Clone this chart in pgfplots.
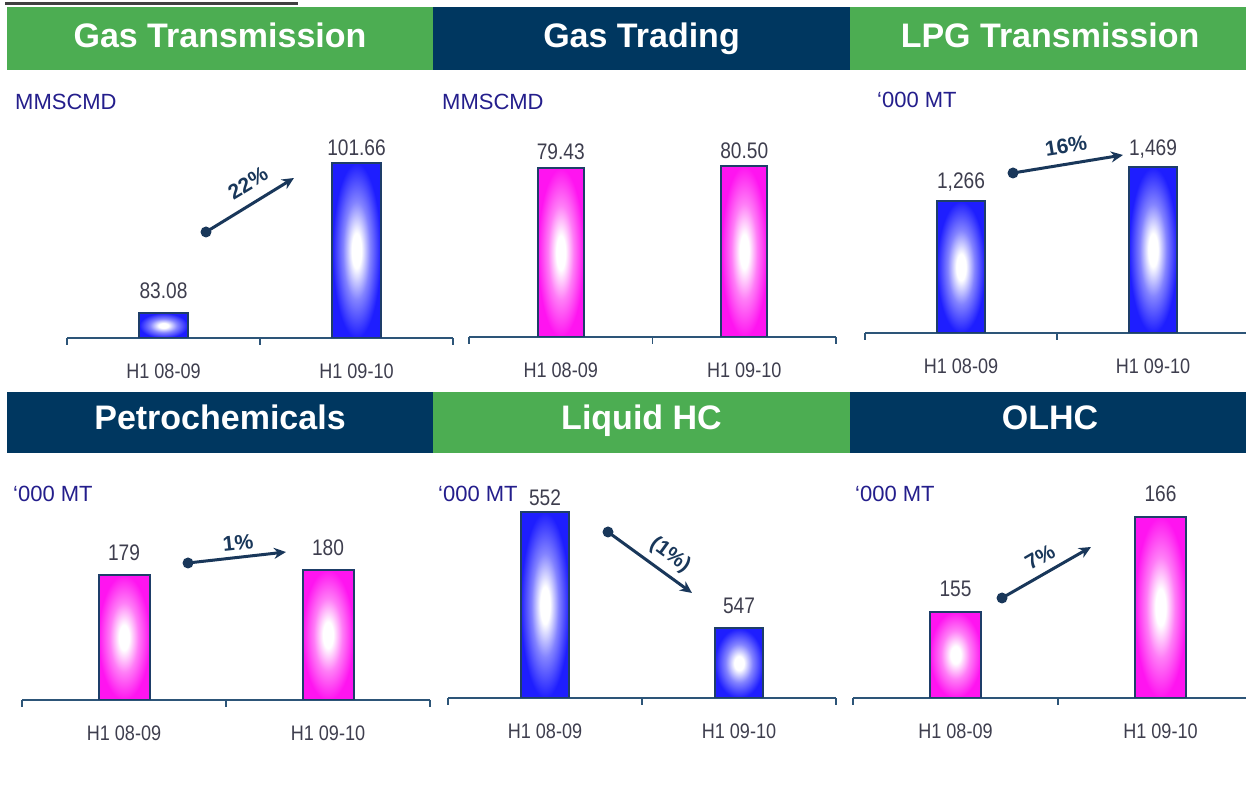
\documentclass[border=0pt]{standalone}
\usepackage{fontspec}
\setmainfont{Liberation Sans}
\newfontfamily\tickfont[FakeStretch=0.86]{Liberation Sans}
\newfontfamily\valfont[FakeStretch=0.85]{Liberation Sans}
\usepackage{pgfplots}
\pgfplotsset{compat=1.18}
\usetikzlibrary{arrows.meta}

\definecolor{hgreen}{RGB}{76,173,82}
\definecolor{hnavy}{RGB}{0,55,96}
\definecolor{unitcol}{RGB}{36,30,140}
\definecolor{txtcol}{RGB}{62,62,78}
\definecolor{arrowcol}{RGB}{25,55,90}
\definecolor{bordercol}{RGB}{30,62,105}
\definecolor{axiscol}{RGB}{45,85,120}
\definecolor{barblue}{RGB}{30,30,255}
\definecolor{barmag}{RGB}{255,20,240}
\definecolor{topline}{RGB}{64,64,64}

\pgfdeclareradialshading{blueshade}{\pgfpoint{0bp}{0bp}}{color(0bp)=(white); color(5bp)=(white); color(14bp)=(barblue!55!white); color(25bp)=(barblue); color(50bp)=(barblue)}
\pgfdeclareradialshading{magshade}{\pgfpoint{0bp}{0bp}}{color(0bp)=(white); color(5bp)=(white); color(14bp)=(barmag!55!white); color(25bp)=(barmag); color(50bp)=(barmag)}

\tikzset{
  hdr/.style={text=white, font=\fontsize{34}{40}\selectfont\bfseries, anchor=base, inner sep=0},
  unit/.style={text=unitcol, font=\fontsize{22}{26}\selectfont, anchor=west, inner sep=0},
  vlab/.style={text=txtcol, font=\valfont\fontsize{22.5}{26}\selectfont, anchor=base, inner sep=0},
  pct/.style={text=arrowcol, font=\fontsize{21}{25}\selectfont\bfseries, inner sep=0},
  arr/.style={draw=arrowcol, line width=3pt, -{Stealth[length=12pt,width=11pt]}},
}

\pgfplotsset{
  panel/.style={
    scale only axis, anchor=south west,
    xmin=-0.5, xmax=1.5, enlargelimits=false,
    axis x line=bottom, axis y line=none,
    axis line style={draw=axiscol, line width=1.5pt, -},
    xtick={-0.5,0.5,1.5}, xticklabels={,,},
    tick align=outside, major tick length=7pt,
    xtick style={draw=axiscol, line width=1.5pt},
    extra x ticks={0,1},
    extra x tick labels={H1 08-09,H1 09-10},
    extra x tick style={major tick length=0pt},
    xticklabel style={text=txtcol, font=\tickfont\fontsize{21}{24}\selectfont, yshift=-22pt},
    ytick=\empty,
    clip mode=individual,
  },
  bbar/.style={draw=bordercol, line width=2pt, shade, shading=blueshade},
  mbar/.style={draw=bordercol, line width=2pt, shade, shading=magshade},
}

\begin{document}
\begin{tikzpicture}[x=1pt,y=1pt]
\path[use as bounding box] (0,0) rectangle (1246,794);
\fill[white] (0,0) rectangle (1246,794);

% top cut line
\draw[topline, line width=3pt] (5,790) -- (298,790);

% banners row 1
\fill[hgreen] (7,724) rectangle (433,787);
\fill[hnavy] (433,724) rectangle (850,787);
\fill[hgreen] (850,724) rectangle (1246,787);
\node[hdr] at (220,746) {Gas Transmission};
\node[hdr] at (641.5,746) {Gas Trading};
\node[hdr] at (1050,746) {LPG Transmission};

% banners row 2
\fill[hnavy] (7,341) rectangle (433,402);
\fill[hgreen] (433,341) rectangle (850,402);
\fill[hnavy] (850,341) rectangle (1246,402);
\node[hdr] at (220,364) {Petrochemicals};
\node[hdr] at (641.5,364) {Liquid HC};
\node[hdr] at (1050,364) {OLHC};

% unit labels
\node[unit] at (15,692) {MMSCMD};
\node[unit] at (442,692) {MMSCMD};
\node[unit] at (877,694) {‘000 MT};
\node[unit] at (13,300) {‘000 MT};
\node[unit] at (438,300) {‘000 MT};
\node[unit] at (855,300) {‘000 MT};

% Panel 1: Gas Transmission
\begin{axis}[panel, at={(67pt,456pt)}, width=386pt, height=201.8pt, ymin=80, ymax=105]
\addplot[bbar] coordinates {(-0.125,80) (-0.125,83.08) (0.125,83.08) (0.125,80)} -- cycle;
\addplot[bbar] coordinates {(0.875,80) (0.875,101.66) (1.125,101.66) (1.125,80)} -- cycle;
\node[vlab, yshift=15pt] at (axis cs:0,83.08) {83.08};
\node[vlab, yshift=8pt] at (axis cs:1,101.66) {101.66};
\end{axis}

% Panel 2: Gas Trading
\begin{axis}[panel, at={(469pt,457pt)}, width=367pt, height=191.2pt, ymin=0, ymax=90]
\addplot[mbar] coordinates {(-0.125,0) (-0.125,79.43) (0.125,79.43) (0.125,0)} -- cycle;
\addplot[mbar] coordinates {(0.875,0) (0.875,80.50) (1.125,80.50) (1.125,0)} -- cycle;
\node[vlab, yshift=9pt] at (axis cs:0,79.43) {79.43};
\node[vlab, yshift=7pt] at (axis cs:1,80.50) {80.50};
\end{axis}

% Panel 3: LPG Transmission
\begin{axis}[panel, at={(865pt,461pt)}, width=384pt, height=204.4pt, ymin=480, ymax=1700]
\addplot[bbar] coordinates {(-0.125,480) (-0.125,1266) (0.125,1266) (0.125,480)} -- cycle;
\addplot[bbar] coordinates {(0.875,480) (0.875,1469) (1.125,1469) (1.125,480)} -- cycle;
\node[vlab, yshift=13pt] at (axis cs:0,1266) {1,266};
\node[vlab, yshift=12pt] at (axis cs:1,1469) {1,469};
\end{axis}

% Panel 4: Petrochemicals
\begin{axis}[panel, at={(22pt,94pt)}, width=408pt, height=208.3pt, ymin=155, ymax=195]
\addplot[mbar] coordinates {(-0.125,155) (-0.125,179) (0.125,179) (0.125,155)} -- cycle;
\addplot[mbar] coordinates {(0.875,155) (0.875,180) (1.125,180) (1.125,155)} -- cycle;
\node[vlab, yshift=15pt] at (axis cs:0,179) {179};
\node[vlab, yshift=14pt] at (axis cs:1,180) {180};
\end{axis}

% Panel 5: Liquid HC
\begin{axis}[panel, at={(448pt,96pt)}, width=388pt, height=208.8pt, ymin=544, ymax=553]
\addplot[bbar] coordinates {(-0.125,544) (-0.125,552) (0.125,552) (0.125,544)} -- cycle;
\addplot[bbar] coordinates {(0.875,544) (0.875,547) (1.125,547) (1.125,544)} -- cycle;
\node[vlab, yshift=7pt] at (axis cs:0,552) {552};
\node[vlab, yshift=15pt] at (axis cs:1,547) {547};
\end{axis}

% Panel 6: OLHC
\begin{axis}[panel, at={(853pt,96pt)}, width=410pt, height=198.6pt, ymin=145, ymax=168]
\addplot[mbar] coordinates {(-0.125,145) (-0.125,155) (0.125,155) (0.125,145)} -- cycle;
\addplot[mbar] coordinates {(0.875,145) (0.875,166) (1.125,166) (1.125,145)} -- cycle;
\node[vlab, yshift=15pt] at (axis cs:0,155) {155};
\node[vlab, yshift=15pt] at (axis cs:1,166) {166};
\end{axis}

% growth arrows
\fill[arrowcol] (206,562) circle (5.5);
\draw[arr] (206,562) -- (294,616);
\node[pct, rotate=31] at (248,611) {22\%};

\fill[arrowcol] (1013,621) circle (5.5);
\draw[arr] (1013,621) -- (1123,639);
\node[pct, rotate=9] at (1066,648) {16\%};

\fill[arrowcol] (188,231) circle (5.5);
\draw[arr] (188,231) -- (286,242);
\node[pct, rotate=6] at (238,251) {1\%};

\fill[arrowcol] (608,262) circle (5.5);
\draw[arr] (608,262) -- (692,201);
\node[pct, rotate=-36] at (670,239) {(1\%)};

\fill[arrowcol] (1002,196) circle (5.5);
\draw[arr] (1002,196) -- (1091,247);
\node[pct, rotate=30] at (1040,237) {7\%};

\end{tikzpicture}
\end{document}
